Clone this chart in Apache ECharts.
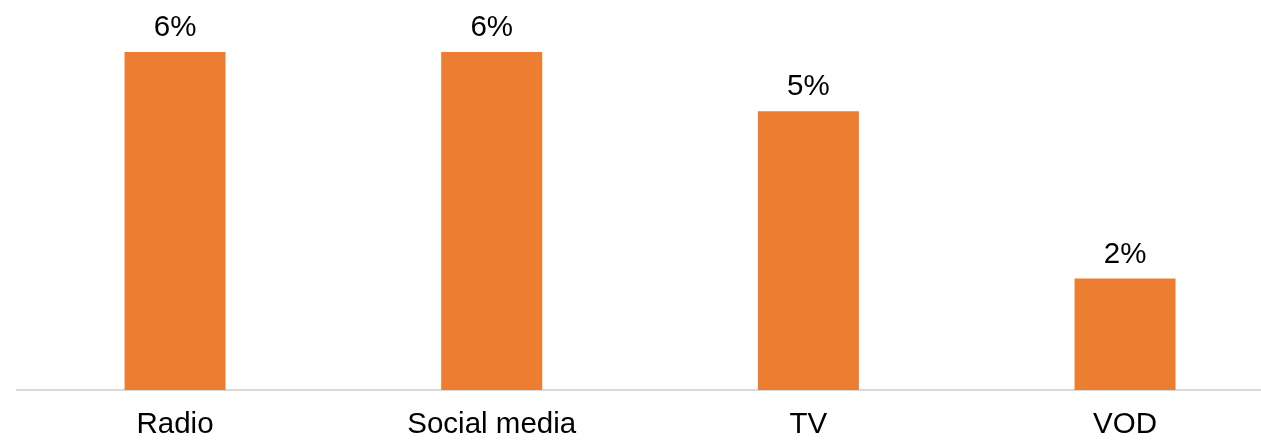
<!DOCTYPE html>
<html>
<head>
<meta charset="utf-8">
<script src="https://cdn.jsdelivr.net/npm/echarts@6/dist/echarts.min.js"></script>
<style>
html,body{margin:0;padding:0;background:#fff;overflow:hidden;width:1261px;height:440px;}
#chart{width:1300px;height:440px;}
</style>
</head>
<body>
<div id="chart"></div>
<script>
const categories = ["Radio", "Social media", "TV", "VOD"];
const values = [6.0, 6.0, 4.95, 1.98];

const chart = echarts.init(document.getElementById('chart'), null, {renderer: 'canvas'});
chart.setOption({
  animation: false,
  backgroundColor: '#ffffff',
  grid: {left: 16.7, width: 1266.7, top: 52, height: 339, containLabel: false},
  xAxis: {
    type: 'category',
    data: categories,
    axisLine: {show: true, lineStyle: {color: '#d9d9d9', width: 2}},
    axisTick: {show: false},
    axisLabel: {
      color: '#000000',
      fontFamily: 'Liberation Sans, Arial, sans-serif',
      fontSize: 29.5,
      margin: 20
    }
  },
  yAxis: {
    type: 'value',
    min: 0,
    max: 6,
    show: false,
    splitLine: {show: false}
  },
  series: [{
    type: 'bar',
    data: values,
    barWidth: 101,
    itemStyle: {color: '#ED7D31'},
    label: {
      show: true,
      position: 'top',
      distance: 9,
      color: '#000000',
      fontFamily: 'Liberation Sans, Arial, sans-serif',
      fontSize: 29.5,
      formatter: p => Math.round(p.value) + '%'
    }
  }]
});
</script>
</body>
</html>
